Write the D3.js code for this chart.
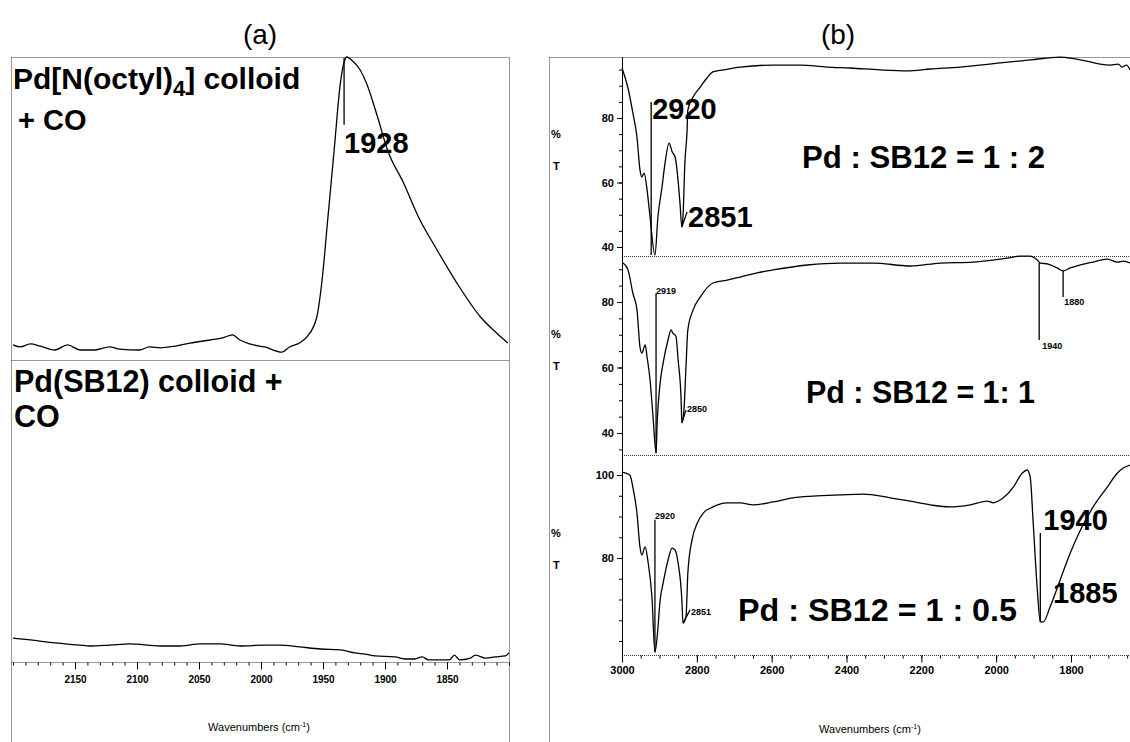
<!DOCTYPE html>
<html>
<head>
<meta charset="utf-8">
<script src="https://cdnjs.cloudflare.com/ajax/libs/d3/7.8.5/d3.min.js"></script>
<style>
  body { margin: 0; background: #fff; }
  svg text { font-family: "Liberation Sans", Arial, Helvetica, sans-serif; fill: #000; }
  .dots { stroke: #333; stroke-width: 1; stroke-dasharray: 1,1; fill: none; }
  .spec { fill: none; stroke: #000; stroke-width: 1.3; stroke-linejoin: round; }
  .mark { stroke: #000; stroke-width: 1.3; }
  .axis path { display: none; }
  .axis line { stroke: #000; }
  .axis text { font-weight: bold; }
</style>
</head>
<body>
<div id="vis"></div>
<script>
//DATA (a): CO adsorbed on colloids, absorbance-like (a.u.)
const aTopWave = [2200,2194,2186,2178,2166,2156,2146,2134,2122,2114,2098,2090,2081,2069,2057,2041,2031,2023,2017,2009,1997,1983,1977,1969,1963,1955,1951,1946,1941,1936,1933,1931,1927,1920,1915,1906,1898,1885,1873,1858,1842,1823,1810,1801];
const aTopAbs  = [5.0,4.3,5.3,4.6,3.3,5.0,3.3,3.3,4.3,3.6,3.3,4.3,4.0,4.6,5.6,6.6,7.3,8.3,6.6,5.3,4.3,2.6,4.3,5.6,7.6,14.2,25.4,47.2,69.3,91.4,98.3,100,99.0,95.7,91.4,80.2,69.3,58.4,47.2,36.3,25.4,14.2,8.9,5.6];

const aBotWave = [2200,2186,2166,2146,2138,2122,2106,2081,2065,2049,2033,2017,1997,1985,1969,1952,1936,1924,1916,1908,1892,1884,1876,1870,1865,1848,1844,1840,1831,1827,1819,1811,1803,1800];
const aBotAbs  = [7.9,7.3,6.3,5.6,5.3,5.6,6.0,5.3,5.3,6.0,6.0,5.3,5.6,5.6,5.0,4.3,4.0,3.0,2.6,2.0,1.7,1.0,1.0,1.7,0.7,0.7,2.3,0.7,1.3,2.3,1.3,1.7,2.0,3.0];

const aTicks = [2150,2100,2050,2000,1950,1900,1850];

//DATA (b): %T spectra for three Pd : SB12 ratios
const b12Wave = [3000,2984,2971,2960,2952,2947,2941,2933,2925,2912,2904,2893,2885,2874,2866,2858,2853,2845,2840,2837,2832,2826,2824,2810,2791,2773,2757,2730,2684,2596,2524,2452,2390,2310,2238,2176,2096,1989,1909,1829,1789,1749,1722,1695,1674,1663,1652,1642];
const b12T    = [95.5,89.3,81.6,74.1,63.9,61.7,62.9,57.7,49.3,37.5,49.3,58.6,66.0,72.2,69.5,67.9,63.9,53.6,46.2,49.3,66.0,76.3,82.5,86.5,89.6,92.4,94.3,94.9,95.8,96.4,96.4,95.8,95.5,94.9,94.6,95.2,95.8,97.1,98.0,98.9,98.3,97.4,96.7,96.4,96.7,95.8,96.4,94.9];

const b11Wave = [2997,2984,2971,2960,2952,2947,2938,2933,2925,2917,2909,2906,2898,2890,2877,2869,2864,2856,2850,2842,2840,2834,2829,2824,2810,2791,2757,2719,2684,2639,2596,2505,2417,2329,2230,2150,2061,1971,1936,1909,1890,1882,1861,1837,1821,1802,1775,1741,1703,1676,1660,1642];
const b11T    = [91.9,89.8,82.7,77.6,66.3,64.4,66.9,63.2,56.2,44.9,33.9,43.1,55.3,61.4,68.4,71.5,70.5,69.6,62.3,50.1,43.1,47.9,60.2,71.5,77.6,81.5,85.8,86.7,87.6,88.9,89.8,91.3,91.9,91.9,91.0,91.9,92.2,93.4,94.0,94.0,92.8,91.9,91.6,90.4,89.5,90.4,91.3,92.2,93.1,92.2,92.5,91.9];

const b105Wave = [3000,2979,2971,2960,2952,2947,2938,2930,2920,2912,2906,2898,2890,2877,2866,2858,2850,2840,2837,2829,2824,2813,2799,2783,2757,2719,2684,2650,2596,2543,2489,2417,2356,2283,2230,2176,2123,2069,2024,2008,1981,1954,1930,1917,1909,1901,1890,1882,1874,1856,1829,1802,1775,1741,1703,1676,1660,1642];
const b105T    = [100.7,100.0,97.1,90.8,82.7,80.7,82.7,78.8,70.6,57.3,61.0,69.9,74.0,79.5,82.4,81.9,78.8,69.9,64.3,65.8,76.4,84.3,88.4,90.8,92.3,93.3,93.3,92.8,93.5,94.5,94.9,95.2,95.4,94.5,93.7,92.8,92.3,92.8,93.7,93.3,94.5,97.1,100.5,101.2,99.5,88.4,72.3,64.6,64.6,68.2,74.7,81.2,86.7,92.3,97.1,100.5,101.7,102.4];

const bTicks = [3000,2800,2600,2400,2200,2000,1800];
const b12YTicks = [40,60,80];
const b11YTicks = [40,60,80];
const b105YTicks = [80,100];

//peak labels: label, wavenumber / value where the marker starts and ends
const aTopPeaks = [{label:"1928", w0:1933, t0:99.7, w1:1933, t1:77.6}];
const b12Peaks = [{label:"2920", w0:2922, t0:37.5, w1:2922, t1:85.0},
                  {label:"2851", w0:2840, t0:46.2, w1:2826, t1:50.9}];
const b11Peaks = [{label:"2919", w0:2909, t0:33.9, w1:2909, t1:82.7},
                  {label:"2850", w0:2840, t0:43.1, w1:2829, t1:47.0},
                  {label:"1940", w0:1885, t0:91.9, w1:1885, t1:68.4},
                  {label:"1880", w0:1821, t0:89.5, w1:1821, t1:81.5}];
const b105Peaks = [{label:"2920", w0:2912, t0:57.3, w1:2912, t1:89.2},
                   {label:"2851", w0:2837, t0:64.3, w1:2818, t1:67.5},
                   {label:"1940", w0:1882, t0:64.6, w1:1882, t1:86.0},
                   {label:"1885", w0:1856, t0:68.2, w1:1856, t1:68.2}];

//SVG
const svg = d3.select('#vis').append('svg')
  .attr('width', 1130)
  .attr('height', 742);

//SCALES
const xA = d3.scaleLinear().domain([2200, 1800]).range([13, 509]);
const yATop = d3.scaleLinear().domain([0, 100]).range([360, 57]);
const yABot = d3.scaleLinear().domain([0, 100]).range([662, 360]);

const xB = d3.scaleLinear().domain([3000, 1800]).range([622, 1071]);
const yB12 = d3.scaleLinear().domain([40, 80]).range([247, 118]);
const yB11 = d3.scaleLinear().domain([40, 80]).range([433, 302]);
const yB105 = d3.scaleLinear().domain([80, 100]).range([558, 475]);

//HELPER FUNCTIONS
function dotLine(x1, y1, x2, y2) {
  svg.append('line').attr('class', 'dots')
    .attr('x1', x1).attr('y1', y1).attr('x2', x2).attr('y2', y2);
}

function spectrum(waves, vals, x, y) {
  const line = d3.line()
    .curve(d3.curveMonotoneX)
    .x(d => x(d[0])).y(d => y(d[1]));
  svg.append('path').attr('class', 'spec')
    .datum(d3.zip(waves, vals))
    .attr('d', line);
}

function peaks(list, x, y, size, dx, dy) {
  list.forEach((p, i) => {
    if (p.w0 !== p.w1 || p.t0 !== p.t1) {
      svg.append('line').attr('class', 'mark')
        .attr('x1', x(p.w0)).attr('y1', y(p.t0))
        .attr('x2', x(p.w1)).attr('y2', y(p.t1));
    }
    svg.append('text')
      .attr('x', x(p.w1) + dx[i])
      .attr('y', y(p.t1) + dy[i])
      .attr('font-size', size[i])
      .attr('font-weight', 'bold')
      .text(p.label);
  });
}

function bigLabel(txt, x, y, size, len) {
  const t = svg.append('text')
    .attr('x', x).attr('y', y)
    .attr('font-size', size)
    .attr('font-weight', 'bold')
    .text(txt);
  if (len) t.attr('textLength', len).attr('lengthAdjust', 'spacingAndGlyphs');
  return t;
}

function xLabel(cx, y) {
  const t = svg.append('text')
    .attr('x', cx).attr('y', y)
    .attr('text-anchor', 'middle')
    .attr('font-size', 11);
  t.append('tspan').text('Wavenumbers (cm');
  t.append('tspan').attr('font-size', 7).attr('dy', -4).text('-1');
  t.append('tspan').attr('dy', 4).text(')');
}

function bottomAxis(x, ticks, minor, y, fs, pad) {
  svg.append('g').attr('class', 'axis')
    .attr('transform', `translate(0,${y})`)
    .call(d3.axisBottom(x).tickValues(minor).tickSize(3).tickFormat(''));
  svg.append('g').attr('class', 'axis')
    .attr('transform', `translate(0,${y})`)
    .call(d3.axisBottom(x).tickValues(ticks).tickSize(7).tickPadding(pad).tickFormat(d3.format('d')))
    .selectAll('text').attr('font-size', fs);
}

function leftAxis(y, ticks, minor, yPct) {
  svg.append('g').attr('class', 'axis')
    .attr('transform', 'translate(622,0)')
    .call(d3.axisLeft(y).tickValues(minor).tickSize(3).tickFormat(''));
  svg.append('g').attr('class', 'axis')
    .attr('transform', 'translate(622,0)')
    .call(d3.axisLeft(y).tickValues(ticks).tickSize(5).tickPadding(3))
    .selectAll('text').attr('font-size', 11);
  svg.append('text').attr('x', 551).attr('y', yPct).attr('font-size', 11).attr('font-weight', 'bold').text('%');
  svg.append('text').attr('x', 553).attr('y', yPct + 32).attr('font-size', 11).attr('font-weight', 'bold').text('T');
}

//DRAW panel titles
svg.append('text').attr('x', 260).attr('y', 44).attr('text-anchor', 'middle')
  .attr('font-size', 28).text('(a)');
svg.append('text').attr('x', 838).attr('y', 44).attr('text-anchor', 'middle')
  .attr('font-size', 28).text('(b)');

//DRAW panel (a)
dotLine(11.5, 57.5, 509.5, 57.5);
dotLine(11.5, 57.5, 11.5, 742);
dotLine(509.5, 57.5, 509.5, 742);
dotLine(11.5, 360.5, 509.5, 360.5);
dotLine(11.5, 662.5, 509.5, 662.5);

bottomAxis(xA, aTicks, d3.range(2200, 1799, -10), 662.5, 10, 6);
xLabel(259, 731);

spectrum(aTopWave, aTopAbs, xA, yATop);
spectrum(aBotWave, aBotAbs, xA, yABot);
peaks(aTopPeaks, xA, yATop, [29], [0], [28]);

const t1 = svg.append('text').attr('x', 13).attr('y', 89)
  .attr('font-size', 30).attr('font-weight', 'bold');
t1.append('tspan').text('Pd[N(octyl)');
t1.append('tspan').attr('font-size', 22).attr('dy', 7).text('4');
t1.append('tspan').attr('dy', -7).text('] colloid');
bigLabel('+ CO', 18, 130, 29);
bigLabel('Pd(SB12) colloid +', 14, 392, 30.5);
bigLabel('CO', 14, 427, 30.5);

//DRAW panel (b)
dotLine(549.5, 57.5, 1130, 57.5);
dotLine(549.5, 57.5, 549.5, 742);
dotLine(622, 256.5, 1130, 256.5);
dotLine(622, 455.5, 1130, 455.5);
dotLine(622, 655.5, 1130, 655.5);
svg.append('line').attr('x1', 622.5).attr('x2', 622.5).attr('y1', 57).attr('y2', 655)
  .attr('stroke', '#000').attr('stroke-width', 1);

leftAxis(yB12, b12YTicks, d3.range(40, 96, 5), 138);
leftAxis(yB11, b11YTicks, d3.range(35, 91, 5), 338);
leftAxis(yB105, b105YTicks, d3.range(60, 101, 5), 537);

bottomAxis(xB, bTicks, d3.range(3000, 1640, -50), 655.5, 11, 4);
xLabel(870, 733);

spectrum(b12Wave, b12T, xB, yB12);
spectrum(b11Wave, b11T, xB, yB11);
spectrum(b105Wave, b105T, xB, yB105);

peaks(b12Peaks, xB, yB12, [29, 29], [1, 1], [17, 15]);
peaks(b11Peaks, xB, yB11, [9, 9, 9, 9], [0, 1, 3, 1], [1, 2, 9, 8]);
peaks(b105Peaks, xB, yB105, [9, 9, 29, 29], [0, 1, 3, 3], [-1, 5, -3, -4]);

bigLabel('Pd : SB12 = 1 : 2', 802, 168, 31, 243);
bigLabel('Pd : SB12 = 1: 1', 806, 403, 31, 229);
bigLabel('Pd : SB12 = 1 : 0.5', 738, 621, 31, 279);
</script>
</body>
</html>
